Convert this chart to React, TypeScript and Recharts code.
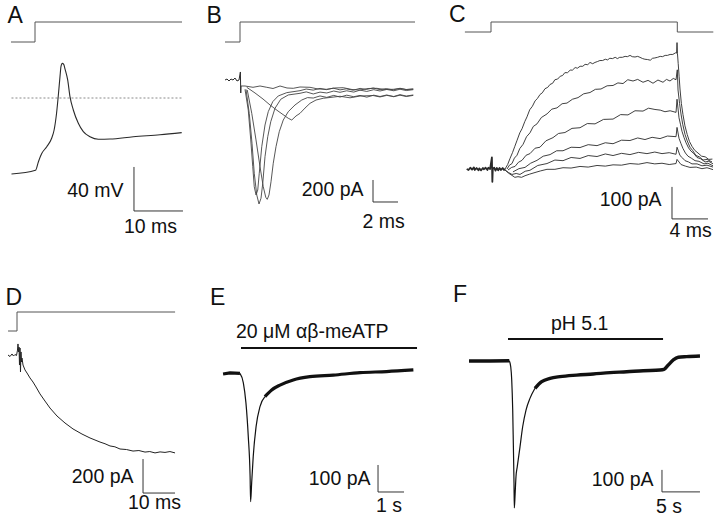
import React from 'react';
import { LineChart, Line, XAxis, YAxis } from 'recharts';

type Pt = [number, number];

// ---------- Panel A : membrane potential (t in ms, V in mV)
const aVoltage: Pt[] = [
  [-4.8, -69.1], [0.1, -65.7], [0.7, -57.9], [1.4, -50.3], [2.4, -44.3], [3.4, -36.6], [3.9, -29.1],
  [4.4, -13.9], [4.8, 4.3], [5.1, 19.4], [5.3, 28.5], [5.57, 31.5], [5.86, 30.6], [6.12, 26.5], [6.67, 16.4],
  [7.14, 1.2], [7.82, -10.9], [8.84, -23], [9.86, -30.6], [11.22, -35.2], [12.92, -37.5], [15.31, -37.3],
  [20.06, -35.2], [25.51, -33.4], [29.94, -31.5],
];
const aZeroLine: Pt[] = [[-4.8, 0], [30, 0]];
const aCommand: Pt[] = [[-4.9, 0], [0, 0], [0, 1], [30, 1]];
const aScale: Pt[] = [[20.2, -62.7], [20.2, -102.7], [30.2, -102.7]];

// ---------- Panel B : currents (t in ms, I in pA)
const bCommand: Pt[] = [[-1.2, 0], [0, 0], [0, 1], [14, 1]];
const bPre: Pt[] = [
  [-1.2, 0], [-1.04, 9], [-0.88, -9], [-0.72, 9], [-0.56, 0], [-0.4, 18], [-0.24, -9], [-0.08, 0],
  [0.03, 73], [0.06, -118], [0.08, -55],
];
const bFlat: Pt[] = [
  [0.08, -54.5], [0.4, -54.5], [1.04, -66.4], [1.6, -54.5], [2.14, -66.4], [2.64, -77.3], [3.2, -54.5],
  [3.76, -72.7], [4.26, -75.5], [4.8, -63.6], [5.6, -66.4], [6.24, -81.8], [6.94, -84.5], [7.6, -72.7],
  [8.26, -70], [8.96, -86.4], [9.6, -90.9], [10.24, -77.3], [10.94, -75.5], [11.6, -86.4], [12.26, -84.5],
  [12.8, -77.3], [13.28, -86.4], [13.86, -84.5],
];
const bSlow: Pt[] = [
  [0.54, -66.4], [1.2, -118], [1.84, -173], [2.4, -227], [3.04, -282], [3.6, -327], [3.86, -348],
  [4.14, -364], [4.48, -327], [4.8, -303], [5.2, -255], [5.6, -212], [6.08, -182], [6.66, -166],
  [7.2, -159], [8.0, -148], [8.8, -162], [9.6, -146], [10.64, -141], [11.2, -154], [11.74, -140],
  [12.3, -150], [12.8, -133], [13.3, -146], [13.86, -136],
];
const bFast1: Pt[] = [
  [0.4, -85], [0.66, -273], [0.86, -545], [1.02, -788], [1.14, -970], [1.28, -1045], [1.42, -1000],
  [1.54, -848], [1.74, -606], [2.0, -409], [2.26, -288], [2.62, -197], [3.06, -145], [3.74, -115],
  [4.8, -97], [5.3, -82], [5.86, -92], [6.4, -76], [6.9, -88], [7.46, -74], [8.0, -90], [8.5, -80],
  [9.06, -93], [9.6, -76], [10.1, -86], [10.66, -72], [11.2, -88], [11.7, -78], [12.26, -90], [12.8, -75],
  [13.3, -87], [13.86, -80],
];
const bFast2: Pt[] = [
  [0.48, -85], [0.74, -303], [0.96, -575], [1.14, -848], [1.34, -1045], [1.52, -1127], [1.68, -1075],
  [1.82, -939], [2.0, -697], [2.22, -515], [2.46, -379], [2.8, -257], [3.26, -175], [3.86, -136],
  [4.8, -121], [5.3, -108], [5.86, -127], [6.4, -110], [6.94, -118], [7.5, -100], [8.0, -112], [8.54, -98],
  [9.1, -110], [9.6, -92], [10.14, -104], [10.7, -88], [11.2, -100], [11.74, -86], [12.3, -98], [12.8, -84],
  [13.3, -96], [13.86, -88],
];
const bFast3: Pt[] = [
  [0.58, -91], [0.94, -303], [1.28, -545], [1.6, -788], [1.86, -970], [2.06, -1066], [2.18, -1085],
  [2.32, -1045], [2.48, -925], [2.66, -757], [2.88, -606], [3.14, -470], [3.46, -364], [3.86, -288],
  [4.4, -227], [4.94, -182], [5.4, -160], [5.86, -164], [6.4, -145], [6.94, -158], [7.5, -140], [8.0, -155],
  [8.54, -138], [9.1, -152], [9.6, -140], [10.14, -156], [10.7, -138], [11.2, -150], [11.74, -136],
  [12.3, -152], [12.8, -138], [13.3, -150], [13.86, -140],
];
const bScale: Pt[] = [[10.64, -909], [10.64, -1109], [12.64, -1109]];

// ---------- Panel C : outward currents (t in ms, I in pA)
const cCommand: Pt[] = [[-2.9, 0], [0, 0], [0, 1], [20.7, 1], [20.7, 0], [24.7, 0]];
const cPre: Pt[] = [
  [-2.7, 0], [-2.5, -3], [-2.3, 4], [-2.1, -2], [-1.9, 5], [-1.8, -3], [-1.6, 3], [-1.4, -4], [-1.3, 2],
  [-1.1, -4], [-0.9, 3], [-0.8, -1], [-0.6, 4], [-0.4, -3], [-0.3, 4], [-0.1, 0], [0.1, 36], [0.15, -40],
  [0.2, 0], [0.35, 4], [0.5, -5], [0.65, 3], [0.8, -4], [0.95, 3], [1.1, -3], [1.3, 3], [1.45, -3], [1.56, 0],
];
const cTrace1: Pt[] = [
  [1.56, 0], [1.85, 14], [2.1, 32], [2.4, 52], [2.65, 71], [2.9, 90], [3.2, 113], [3.45, 126], [3.75, 148],
  [4.0, 163], [4.3, 185], [4.6, 196], [4.9, 213], [5.15, 220], [5.45, 233], [5.7, 238], [6.0, 251],
  [6.3, 255], [6.55, 264], [6.85, 268], [7.1, 279], [7.4, 281], [7.7, 290], [7.95, 292], [8.2, 301],
  [8.5, 301], [8.8, 309], [9.05, 309], [9.35, 317], [9.6, 315], [9.9, 321], [10.2, 321], [10.45, 327],
  [10.75, 326], [11.0, 333], [11.3, 329], [11.55, 333], [11.85, 336], [12.1, 339], [12.4, 339], [12.7, 343],
  [12.95, 341], [13.2, 346], [13.5, 345], [13.8, 349], [14.05, 345], [14.3, 349], [14.6, 349], [14.9, 352],
  [15.15, 351], [15.45, 355], [15.7, 351], [16.0, 350], [16.3, 352], [16.55, 349], [16.85, 345], [17.1, 343],
  [17.4, 342], [17.7, 340], [17.95, 346], [18.2, 347], [18.5, 349], [18.8, 352], [19.05, 351], [19.35, 355],
  [19.6, 355], [19.9, 358], [20.2, 358], [20.5, 363], [20.62, 362], [20.67, 395], [20.72, 360], [20.8, 330],
  [20.9, 290], [21.0, 250], [21.15, 205], [21.33, 170], [21.55, 135], [21.8, 108], [22.05, 86], [22.35, 70],
  [22.65, 58], [23.0, 50], [23.4, 40], [23.8, 38], [24.2, 30], [24.6, 31],
];
const cTrace2: Pt[] = [
  [1.78, 0], [2.05, 12], [2.33, 17], [2.6, 34], [2.89, 43], [3.2, 64], [3.56, 77], [3.95, 101], [4.33, 113],
  [4.7, 133], [5.11, 141], [5.6, 161], [6.22, 172], [6.75, 187], [7.33, 191], [7.9, 204], [8.44, 206],
  [9.05, 218], [9.67, 223], [10.3, 235], [11.0, 239], [11.6, 249], [12.22, 250], [12.9, 260], [13.56, 261],
  [14.1, 269], [14.67, 267], [15.2, 279], [15.78, 275], [16.3, 280], [16.89, 271], [17.45, 277], [18.0, 268],
  [18.55, 278], [19.11, 271], [19.5, 280], [19.89, 275], [20.25, 283], [20.56, 279], [20.65, 300], [20.7, 310],
  [20.78, 247], [20.95, 205], [21.11, 172], [21.3, 140], [21.56, 108], [21.8, 88], [22.11, 68], [22.4, 58],
  [22.78, 42], [23.15, 38], [23.56, 28], [24.0, 30], [24.56, 22],
];
const cTrace3: Pt[] = [
  [1.89, -3], [2.3, 5], [2.67, 8], [3.05, 21], [3.44, 27], [3.9, 43], [4.33, 48], [4.9, 65], [5.44, 68],
  [6.1, 88], [6.89, 98], [7.5, 111], [8.22, 114], [9.0, 127], [9.89, 129], [10.7, 142], [11.56, 141],
  [12.5, 155], [13.56, 156], [14.4, 170], [15.22, 169], [16.0, 182], [16.89, 181], [17.5, 190], [18.22, 186],
  [18.8, 184], [19.33, 179], [19.9, 182], [20.56, 177], [20.67, 218], [20.89, 160], [21.05, 140], [21.22, 118],
  [21.45, 98], [21.67, 82], [21.95, 66], [22.22, 56], [22.55, 48], [22.89, 36], [23.3, 32], [23.78, 22],
  [24.2, 24], [24.67, 16],
];
const cTrace4: Pt[] = [
  [2.44, -9], [3.1, 1], [3.78, 5], [4.4, 18], [5.11, 27], [5.8, 40], [6.56, 45], [7.3, 57], [8.0, 57],
  [8.9, 68], [9.89, 67], [10.8, 76], [11.78, 73], [12.7, 82], [13.56, 79], [14.5, 90], [15.44, 89],
  [16.3, 97], [17.11, 92], [17.9, 99], [18.78, 95], [19.6, 103], [20.56, 101], [20.67, 130], [20.89, 96],
  [21.1, 80], [21.33, 64], [21.6, 50], [21.89, 40], [22.25, 34], [22.67, 26], [23.1, 24], [23.67, 16],
  [24.1, 18], [24.67, 10],
];
const cTrace5: Pt[] = [
  [1.56, -3], [1.95, -11], [2.33, -17], [2.8, -14], [3.22, -17], [3.8, -7], [4.33, -4], [5.2, 11], [6.22, 17],
  [7.1, 28], [8.0, 26], [8.9, 36], [9.89, 33], [10.8, 42], [11.78, 39], [12.7, 47], [13.56, 42], [14.5, 49],
  [15.44, 45], [16.4, 52], [17.33, 48], [18.2, 53], [19.0, 48], [19.8, 51], [20.56, 46], [20.67, 68],
  [21.0, 42], [21.3, 34], [21.56, 26], [21.95, 22], [22.33, 16], [22.9, 16], [23.44, 10], [24.0, 12],
  [24.67, 6],
];
const cTrace6: Pt[] = [
  [1.56, -3], [1.95, -13], [2.33, -20], [2.65, -26], [3.0, -24], [3.4, -26], [3.78, -21], [4.3, -16],
  [4.89, -11], [5.5, -6], [6.22, -1], [7.1, -1], [8.0, 4], [8.9, 3], [9.89, 8], [10.8, 6], [11.78, 11],
  [12.7, 9], [13.56, 13], [14.5, 12], [15.44, 17], [16.4, 15], [17.33, 20], [18.2, 16], [19.0, 18],
  [19.8, 14], [20.56, 17], [20.67, 30], [21.11, 14], [21.6, 9], [22.11, 5], [22.8, 6], [23.44, 1], [24.0, 4],
  [24.67, -2],
];
const cScale: Pt[] = [[20.11, -56], [20.11, -156], [24.11, -156]];

// ---------- Panel D : inward current (t in ms, I in pA)
const dCommand: Pt[] = [[-2.8, 0], [0, 0], [0, 1], [49.4, 1]];
const dTrace: Pt[] = [
  [-2.81, 0], [-2.19, -9], [-1.56, 6], [-1.09, -6], [-0.63, 3], [-0.16, -3], [0.16, 29], [0.31, 65], [0.47, 18],
  [0.63, 47], [0.78, -59], [0.94, 41], [1.09, -100], [1.25, 18], [1.41, -41], [1.56, -18], [1.88, -59],
  [2.5, -88], [3.13, -106], [4.06, -135], [5.0, -159], [5.94, -188], [7.19, -229], [8.75, -271], [10.31, -312],
  [12.5, -359], [15.0, -400], [17.5, -435], [20.31, -465], [22.81, -488], [25.94, -512], [27.5, -522],
  [29.06, -535], [30.6, -540], [32.19, -553], [34.2, -556], [36.25, -565], [38.1, -562], [40.0, -571],
  [41.5, -568], [43.13, -576], [44.7, -570], [46.25, -573], [47.8, -568], [49.38, -576],
];
const dScale: Pt[] = [[39.38, -612], [39.38, -812], [49.38, -812]];

// ---------- Panel E : αβ-meATP response (t in s, I in pA)
const eApplication: Pt[] = [[0, 1], [6.77, 1]];
const ePre: Pt[] = [[-0.69, 0], [-0.42, 4], [-0.04, 2]];
const eDip: Pt[] = [
  [-0.04, 2], [0.09, -33], [0.19, -107], [0.28, -232], [0.35, -380], [0.37, -473], [0.41, -404], [0.47, -306],
  [0.58, -195], [0.73, -121], [0.92, -84],
];
const ePost: Pt[] = [
  [0.92, -84], [1.18, -59], [1.5, -41], [2.01, -22], [2.65, -10], [3.55, -4], [4.58, 5], [5.6, 9], [6.63, 15],
];
const eScale: Pt[] = [[5.27, -337], [5.27, -437], [6.27, -437]];

// ---------- Panel F : pH 5.1 response (t in s, I in pA)
const fApplication: Pt[] = [[0, 1], [20.4, 1]];
const fPre: Pt[] = [[-5.13, 0], [-2.37, 0], [0.17, 1]];
const fDip: Pt[] = [
  [0.17, 1], [0.36, -26], [0.49, -86], [0.62, -223], [0.7, -373], [0.79, -555], [0.83, -668], [0.92, -617],
  [1.05, -526], [1.22, -480], [1.58, -390], [1.93, -299], [2.37, -223], [2.89, -170], [3.55, -124],
];
const fPost: Pt[] = [
  [3.55, -124], [4.43, -94], [5.53, -79], [6.84, -71], [9.04, -64], [11.22, -59], [13.42, -53], [15.62, -49],
  [17.8, -44], [20.0, -41], [20.53, -38], [21.09, -18], [21.75, 5], [22.41, 17], [23.51, 20], [25.26, 23],
];
const fScale: Pt[] = [[20.26, -495], [20.26, -595], [25.26, -595]];

// ---------- Text
const panelLetters = ['A', 'B', 'C', 'D', 'E', 'F'];
const scaleTexts = ['40 mV', '10 ms', '200 pA', '2 ms', '100 pA', '4 ms', '200 pA', '10 ms', '100 pA', '1 s', '100 pA', '5 s'];
const applicationTexts = ['20 \u03bcM \u03b1\u03b2-meATP', 'pH 5.1'];

// ---------- Layout (pixels)
const letterPos = [
  { x: 7.5, cy: 15.3 }, { x: 206.5, cy: 15 }, { x: 449, cy: 14 },
  { x: 5.5, cy: 297.5 }, { x: 210, cy: 297.5 }, { x: 453, cy: 294.5 },
];
const scalePos = [
  { x: 123.5, cy: 190.3, end: true }, { x: 124, cy: 226.3 },
  { x: 363.5, cy: 190, end: true }, { x: 362.5, cy: 221.7 },
  { x: 661.5, cy: 200, end: true }, { x: 669.5, cy: 231 },
  { x: 133.5, cy: 477, end: true }, { x: 128, cy: 503 },
  { x: 370.5, cy: 479, end: true }, { x: 376, cy: 506 },
  { x: 653.5, cy: 480, end: true }, { x: 656, cy: 506.5 },
];
const appPos = [{ x: 236, cy: 331.5 }, { x: 551, cy: 323.3 }];

const FONT = '"Liberation Sans", Arial, Helvetica, sans-serif';
const TRACE = '#2a2a2a';
const STEP = '#555';
const BAR = '#333';

interface Series { data: Pt[]; color: string; width: number; dash?: string; curve?: 'linear' | 'monotone' }
interface Layer { id: string; y0: number; ky: number; series: Series[] }
interface PanelSpec { left: number; top: number; width: number; height: number; x0: number; kx: number; layers: Layer[] }

const panels: PanelSpec[] = [
  {
    left: 0, top: 0, width: 205, height: 240, x0: 35, kx: 4.9,
    layers: [
      { id: 'cmd', y0: 42, ky: 20, series: [{ data: aCommand, color: STEP, width: 1 }] },
      {
        id: 'main', y0: 98, ky: 1.1, series: [
          { data: aZeroLine, color: '#8a8a8a', width: 1, dash: '2 2' },
          { data: aVoltage, color: TRACE, width: 1.1, curve: 'monotone' },
          { data: aScale, color: BAR, width: 1 },
        ],
      },
    ],
  },
  {
    left: 215, top: 0, width: 210, height: 240, x0: 240, kx: 12.5,
    layers: [
      { id: 'cmd', y0: 42, ky: 20, series: [{ data: bCommand, color: STEP, width: 1 }] },
      {
        id: 'main', y0: 80, ky: 0.11, series: [
          { data: bPre, color: TRACE, width: 1 },
          { data: bFlat, color: '#444', width: 0.9 },
          { data: bSlow, color: '#444', width: 0.9 },
          { data: bFast1, color: '#444', width: 0.9 },
          { data: bFast2, color: '#444', width: 0.9 },
          { data: bFast3, color: '#444', width: 0.9 },
          { data: bScale, color: BAR, width: 1 },
        ],
      },
    ],
  },
  {
    left: 455, top: 0, width: 265, height: 245, x0: 491, kx: 9,
    layers: [
      { id: 'cmd', y0: 32, ky: 10, series: [{ data: cCommand, color: STEP, width: 1 }] },
      {
        id: 'main', y0: 169, ky: 0.32, series: [
          { data: cPre, color: TRACE, width: 1.8 },
          { data: cTrace1, color: TRACE, width: 0.9 },
          { data: cTrace2, color: TRACE, width: 0.9 },
          { data: cTrace3, color: TRACE, width: 0.9 },
          { data: cTrace4, color: TRACE, width: 0.9 },
          { data: cTrace5, color: TRACE, width: 0.9 },
          { data: cTrace6, color: TRACE, width: 0.9 },
          { data: cScale, color: BAR, width: 1 },
        ],
      },
    ],
  },
  {
    left: 0, top: 280, width: 200, height: 238, x0: 17, kx: 3.2,
    layers: [
      { id: 'cmd', y0: 331, ky: 19, series: [{ data: dCommand, color: STEP, width: 1 }] },
      {
        id: 'main', y0: 355, ky: 0.17, series: [
          { data: dTrace, color: '#222', width: 1 },
          { data: dScale, color: BAR, width: 1 },
        ],
      },
    ],
  },
  {
    left: 210, top: 280, width: 215, height: 238, x0: 241, kx: 26,
    layers: [
      { id: 'app', y0: 358, ky: 10, series: [{ data: eApplication, color: '#111', width: 2 }] },
      {
        id: 'main', y0: 374, ky: 0.27, series: [
          { data: ePre, color: '#111', width: 3.2 },
          { data: eDip, color: '#111', width: 1.2, curve: 'monotone' },
          { data: ePost, color: '#111', width: 3.2, curve: 'monotone' },
          { data: eScale, color: BAR, width: 1 },
        ],
      },
    ],
  },
  {
    left: 450, top: 280, width: 270, height: 238, x0: 508, kx: 7.6,
    layers: [
      { id: 'app', y0: 349, ky: 10, series: [{ data: fApplication, color: '#111', width: 2 }] },
      {
        id: 'main', y0: 361, ky: 0.22, series: [
          { data: fPre, color: '#111', width: 3.4 },
          { data: fDip, color: '#111', width: 1.2, curve: 'monotone' },
          { data: fPost, color: '#111', width: 3.4, curve: 'monotone' },
          { data: fScale, color: BAR, width: 1 },
        ],
      },
    ],
  },
];

function Panel({ p }: { p: PanelSpec }) {
  const xDomain: [number, number] = [(p.left - p.x0) / p.kx, (p.left + p.width - p.x0) / p.kx];
  return (
    <div style={{ position: 'absolute', left: p.left, top: p.top, width: p.width, height: p.height }}>
      <LineChart width={p.width} height={p.height} margin={{ top: 0, right: 0, bottom: 0, left: 0 }}>
        <XAxis type="number" dataKey="t" domain={xDomain} hide allowDataOverflow />
        {p.layers.map((l) => (
          <YAxis
            key={l.id}
            yAxisId={l.id}
            type="number"
            domain={[(l.y0 - p.top - p.height) / l.ky, (l.y0 - p.top) / l.ky]}
            hide
            allowDataOverflow
          />
        ))}
        {p.layers.flatMap((l) =>
          l.series.map((s, i) => (
            <Line
              key={`${l.id}-${i}`}
              yAxisId={l.id}
              data={s.data.map(([t, v]) => ({ t, v }))}
              dataKey="v"
              type={s.curve ?? 'linear'}
              dot={false}
              activeDot={false}
              isAnimationActive={false}
              stroke={s.color}
              strokeWidth={s.width}
              strokeDasharray={s.dash}
              strokeLinejoin="round"
            />
          ))
        )}
      </LineChart>
    </div>
  );
}

function Label({ text, x, cy, size, end }: { text: string; x: number; cy: number; size: number; end?: boolean }) {
  return (
    <div
      style={{
        position: 'absolute',
        left: x,
        top: cy - 0.489 * size,
        fontFamily: FONT,
        fontSize: size,
        lineHeight: `${size}px`,
        color: '#111',
        whiteSpace: 'nowrap',
        transform: end ? 'translateX(-100%)' : undefined,
      }}
    >
      {text}
    </div>
  );
}

export default function App() {
  return (
    <div style={{ position: 'absolute', left: 0, top: 0, width: 720, height: 518, background: '#fff', overflow: 'hidden' }}>
      {panels.map((p, i) => (
        <Panel key={i} p={p} />
      ))}
      {panelLetters.map((t, i) => (
        <Label key={`l${i}`} text={t} x={letterPos[i].x} cy={letterPos[i].cy} size={23} />
      ))}
      {scaleTexts.map((t, i) => (
        <Label key={`s${i}`} text={t} x={scalePos[i].x} cy={scalePos[i].cy} size={19.5} end={scalePos[i].end} />
      ))}
      {applicationTexts.map((t, i) => (
        <Label key={`a${i}`} text={t} x={appPos[i].x} cy={appPos[i].cy} size={19.5} />
      ))}
    </div>
  );
}
